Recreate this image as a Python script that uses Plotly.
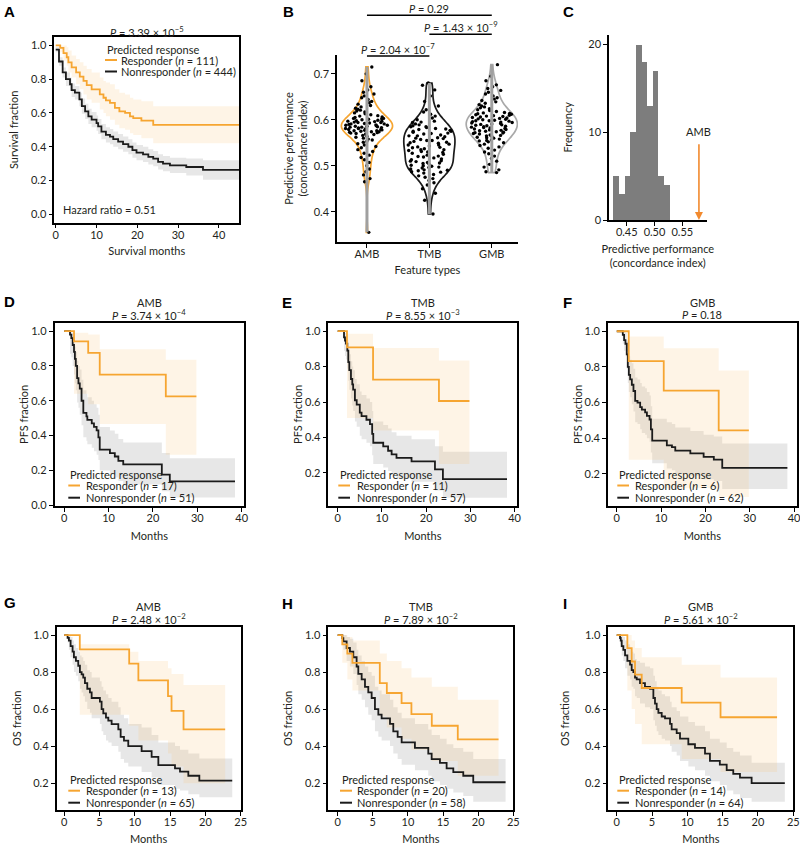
import plotly.graph_objects as go

# ============================ DATA ============================
# ---- Panel A : all patients, predicted response ----
a_resp_time = [0, 1.1, 1.9, 2.7, 3.1, 3.9, 5.0, 5.9, 6.8, 7.6, 8.8, 10.8, 11.7, 12.3, 13.3, 14.5, 15.6, 17.0, 18.2, 19.0, 21.0, 23.9]
a_resp_surv = [1.0, 0.985, 0.955, 0.93, 0.90, 0.87, 0.84, 0.815, 0.79, 0.765, 0.74, 0.71, 0.69, 0.675, 0.66, 0.63, 0.61, 0.60, 0.58, 0.57, 0.555, 0.53]
a_resp_hi = [1.0, 1.0, 1.0, 0.99, 0.97, 0.94, 0.92, 0.90, 0.88, 0.86, 0.84, 0.81, 0.79, 0.78, 0.77, 0.74, 0.72, 0.71, 0.69, 0.68, 0.67, 0.64]
a_resp_lo = [1.0, 0.96, 0.91, 0.88, 0.84, 0.81, 0.77, 0.74, 0.71, 0.68, 0.66, 0.62, 0.60, 0.58, 0.56, 0.53, 0.51, 0.50, 0.48, 0.47, 0.45, 0.42]
a_resp_end = 45
a_non_time = [0, 0.8, 1.7, 2.5, 3.5, 3.9, 4.7, 5.8, 6.4, 7.2, 8.0, 8.8, 10.0, 10.4, 11.2, 12.3, 13.3, 14.1, 15.3, 16.5, 17.8, 18.8, 19.8, 21.4, 22.7, 23.9, 25.1, 26.3, 28.0, 32.0, 36.1]
a_non_surv = [0.975, 0.905, 0.84, 0.80, 0.77, 0.735, 0.72, 0.68, 0.64, 0.61, 0.58, 0.56, 0.54, 0.52, 0.49, 0.47, 0.46, 0.445, 0.43, 0.415, 0.40, 0.38, 0.365, 0.355, 0.34, 0.33, 0.31, 0.30, 0.29, 0.28, 0.263]
a_non_hi = [0.99, 0.93, 0.87, 0.84, 0.81, 0.775, 0.76, 0.72, 0.685, 0.655, 0.625, 0.605, 0.585, 0.565, 0.535, 0.515, 0.505, 0.49, 0.475, 0.46, 0.445, 0.425, 0.41, 0.40, 0.385, 0.375, 0.355, 0.345, 0.335, 0.33, 0.32]
a_non_lo = [0.96, 0.88, 0.81, 0.76, 0.73, 0.695, 0.68, 0.64, 0.595, 0.565, 0.535, 0.515, 0.495, 0.475, 0.445, 0.425, 0.415, 0.40, 0.385, 0.37, 0.355, 0.335, 0.32, 0.31, 0.295, 0.285, 0.265, 0.255, 0.245, 0.23, 0.205]
a_non_end = 45
a_pvalue = "3.39 × 10<sup>−5</sup>"
a_hazard_ratio = 0.51
a_n_resp, a_n_non = 111, 444

# ---- Panel B : concordance index per feature type ----
feature_types = ["AMB", "TMB", "GMB"]
b_amb = [0.355, 0.465, 0.472, 0.480, 0.487, 0.493, 0.500, 0.507, 0.513, 0.518,
         0.523, 0.527, 0.531, 0.535, 0.539, 0.542, 0.545, 0.548, 0.551, 0.553,
         0.556, 0.558, 0.560, 0.562, 0.564, 0.566, 0.568, 0.569, 0.571, 0.572,
         0.573, 0.574, 0.575, 0.576, 0.577, 0.578, 0.579, 0.580, 0.581, 0.582,
         0.583, 0.584, 0.584, 0.585, 0.586, 0.587, 0.588, 0.589, 0.590, 0.591,
         0.592, 0.593, 0.594, 0.595, 0.596, 0.597, 0.598, 0.599, 0.600, 0.601,
         0.602, 0.603, 0.605, 0.606, 0.608, 0.609, 0.611, 0.613, 0.615, 0.617,
         0.619, 0.621, 0.623, 0.625, 0.628, 0.631, 0.634, 0.637, 0.640, 0.644,
         0.648, 0.652, 0.656, 0.660, 0.665, 0.672, 0.685, 0.700, 0.715, 0.579,
         0.581, 0.586, 0.588, 0.591, 0.594, 0.576, 0.574, 0.597, 0.570, 0.603]
b_tmb = [0.395, 0.425, 0.440, 0.450, 0.458, 0.463, 0.468, 0.472, 0.475, 0.478,
         0.481, 0.484, 0.487, 0.489, 0.491, 0.493, 0.495, 0.497, 0.499, 0.501,
         0.503, 0.505, 0.507, 0.509, 0.511, 0.513, 0.515, 0.517, 0.519, 0.521,
         0.523, 0.525, 0.527, 0.529, 0.531, 0.533, 0.535, 0.537, 0.539, 0.541,
         0.543, 0.545, 0.547, 0.549, 0.551, 0.553, 0.555, 0.557, 0.559, 0.561,
         0.563, 0.565, 0.567, 0.569, 0.571, 0.573, 0.575, 0.577, 0.579, 0.581,
         0.583, 0.585, 0.587, 0.589, 0.591, 0.594, 0.597, 0.600, 0.604, 0.608,
         0.612, 0.617, 0.622, 0.630, 0.640, 0.652, 0.665, 0.675, 0.680,
         0.520, 0.530, 0.540, 0.550, 0.560, 0.570, 0.580, 0.500, 0.490, 0.510,
         0.535, 0.545, 0.555, 0.565, 0.575, 0.585, 0.595, 0.486, 0.496, 0.506]
b_gmb = [0.485, 0.487, 0.491, 0.497, 0.503, 0.510, 0.516, 0.521, 0.526, 0.530,
         0.534, 0.538, 0.541, 0.544, 0.547, 0.550, 0.552, 0.554, 0.556, 0.558,
         0.560, 0.562, 0.564, 0.566, 0.567, 0.569, 0.570, 0.572, 0.573, 0.575,
         0.576, 0.577, 0.579, 0.580, 0.581, 0.582, 0.583, 0.585, 0.586, 0.587,
         0.588, 0.589, 0.590, 0.591, 0.592, 0.593, 0.594, 0.595, 0.596, 0.597,
         0.598, 0.599, 0.600, 0.601, 0.602, 0.603, 0.604, 0.606, 0.607, 0.608,
         0.610, 0.611, 0.613, 0.614, 0.616, 0.618, 0.620, 0.622, 0.624, 0.626,
         0.628, 0.630, 0.633, 0.636, 0.639, 0.642, 0.645, 0.648, 0.652, 0.656,
         0.660, 0.664, 0.668, 0.672, 0.676, 0.685, 0.695, 0.720,
         0.578, 0.584, 0.574, 0.571, 0.565, 0.561, 0.605, 0.609, 0.612, 0.615, 0.555, 0.598]
b_pairs = [("AMB", "GMB", "0.29"), ("TMB", "GMB", "1.43 × 10<sup>−9</sup>"), ("AMB", "TMB", "2.04 × 10<sup>−7</sup>")]

# ---- Panel C : null distribution histogram ----
c_bin_left = [0.4259, 0.4360, 0.4462, 0.4563, 0.4665, 0.4766, 0.4868, 0.4969, 0.5070, 0.5172]
c_bin_width = 0.01014
c_counts = [5, 3, 5, 10, 20, 18, 13, 17, 5, 4]
c_amb_cindex = 0.580
c_arrow_top = 8.8

# ---- Panel D : PFS, AMB ----
d_resp_time = [0, 2.2, 5.4, 8.0, 22.9]
d_resp_surv = [1.0, 0.941, 0.875, 0.75, 0.625]
d_resp_hi = [1.0, 0.99, 0.98, 0.895, 0.835]
d_resp_lo = [1.0, 0.64, 0.58, 0.466, 0.29]
d_resp_end = 29.8
d_non_time = [0, 1.3, 1.6, 1.9, 2.2, 2.4, 2.6, 2.9, 3.2, 3.5, 3.9, 4.3, 5.0, 5.2, 6.2, 6.7, 7.3, 7.7, 8.0, 10.3, 11.4, 12.2, 13.3, 22.0, 23.8]
d_non_surv = [1.0, 0.98, 0.96, 0.92, 0.88, 0.84, 0.80, 0.73, 0.70, 0.67, 0.60, 0.53, 0.51, 0.49, 0.47, 0.45, 0.43, 0.39, 0.32, 0.30, 0.28, 0.255, 0.235, 0.176, 0.137]
d_non_hi = [1.0, 1.0, 0.99, 0.97, 0.94, 0.91, 0.88, 0.83, 0.80, 0.78, 0.72, 0.66, 0.64, 0.62, 0.60, 0.58, 0.56, 0.52, 0.45, 0.43, 0.41, 0.38, 0.36, 0.30, 0.27]
d_non_lo = [1.0, 0.87, 0.85, 0.80, 0.75, 0.70, 0.66, 0.59, 0.56, 0.52, 0.46, 0.39, 0.37, 0.35, 0.33, 0.31, 0.29, 0.26, 0.20, 0.18, 0.16, 0.14, 0.12, 0.08, 0.045]
d_non_end = 38.5
d_pvalue = "3.74 × 10<sup>−4</sup>"
d_n_resp, d_n_non = 17, 51

# ---- Panel E : PFS, TMB ----
e_resp_time = [0, 2.1, 8.0, 22.9]
e_resp_surv = [1.0, 0.909, 0.727, 0.606]
e_resp_hi = [1.0, 0.985, 0.905, 0.835]
e_resp_lo = [1.0, 0.51, 0.44, 0.25]
e_resp_end = 29.8
e_non_time = [0, 1.43, 1.65, 1.88, 2.18, 2.4, 2.63, 3.0, 3.3, 3.5, 3.9, 4.3, 5.0, 5.4, 6.5, 7.3, 7.8, 8.05, 10.3, 11.4, 12.2, 13.3, 16.7, 22.0, 23.8]
e_non_surv = [1.0, 0.965, 0.947, 0.93, 0.89, 0.825, 0.78, 0.73, 0.70, 0.67, 0.61, 0.585, 0.54, 0.52, 0.50, 0.475, 0.42, 0.37, 0.35, 0.325, 0.305, 0.285, 0.265, 0.22, 0.165]
e_non_hi = [1.0, 1.0, 0.99, 0.98, 0.95, 0.90, 0.87, 0.83, 0.80, 0.78, 0.73, 0.70, 0.66, 0.64, 0.62, 0.60, 0.55, 0.49, 0.47, 0.45, 0.43, 0.41, 0.39, 0.35, 0.32]
e_non_lo = [1.0, 0.89, 0.86, 0.84, 0.79, 0.72, 0.67, 0.62, 0.58, 0.55, 0.49, 0.46, 0.41, 0.39, 0.37, 0.35, 0.30, 0.25, 0.23, 0.21, 0.19, 0.17, 0.15, 0.10, 0.06]
e_non_end = 38.3
e_pvalue = "8.55 × 10<sup>−3</sup>"
e_n_resp, e_n_non = 11, 57

# ---- Panel F : PFS, GMB ----
f_resp_time = [0, 2.7, 10.6, 23.0]
f_resp_surv = [1.0, 0.833, 0.667, 0.444]
f_resp_hi = [1.0, 0.97, 0.905, 0.78]
f_resp_lo = [1.0, 0.28, 0.12, 0.07]
f_resp_end = 29.8
f_non_time = [0, 1.36, 1.66, 1.96, 2.26, 2.49, 2.72, 3.02, 3.4, 3.77, 4.15, 4.68, 5.28, 5.66, 6.4, 6.8, 7.4, 7.7, 8.0, 11.3, 12.45, 13.2, 16.6, 19.6, 21.9, 23.8]
f_non_surv = [1.0, 0.98, 0.95, 0.93, 0.87, 0.80, 0.755, 0.73, 0.70, 0.665, 0.61, 0.60, 0.575, 0.56, 0.545, 0.525, 0.505, 0.45, 0.387, 0.36, 0.35, 0.33, 0.315, 0.295, 0.28, 0.234]
f_non_hi = [1.0, 1.0, 1.0, 0.99, 0.95, 0.90, 0.86, 0.84, 0.82, 0.79, 0.74, 0.73, 0.71, 0.69, 0.68, 0.66, 0.64, 0.58, 0.51, 0.49, 0.48, 0.46, 0.44, 0.42, 0.41, 0.37]
f_non_lo = [1.0, 0.93, 0.89, 0.86, 0.79, 0.71, 0.66, 0.63, 0.59, 0.55, 0.49, 0.48, 0.45, 0.43, 0.42, 0.40, 0.38, 0.32, 0.26, 0.23, 0.22, 0.20, 0.19, 0.17, 0.16, 0.115]
f_non_end = 38.5
f_pvalue = "0.18"
f_n_resp, f_n_non = 6, 62

# ---- Panel G : OS, AMB ----
g_resp_time = [0, 2.2, 9.2, 10.5, 14.7, 15.2, 16.9]
g_resp_surv = [1.0, 0.923, 0.846, 0.755, 0.67, 0.59, 0.49]
g_resp_hi = [1.0, 0.95, 0.91, 0.86, 0.82, 0.79, 0.73]
g_resp_lo = [1.0, 0.57, 0.51, 0.43, 0.36, 0.29, 0.20]
g_resp_end = 22.8
g_non_time = [0, 0.47, 0.66, 0.9, 1.18, 1.37, 1.65, 1.98, 2.22, 2.46, 2.69, 2.93, 3.26, 3.64, 3.88, 5.05, 5.29, 5.53, 5.91, 6.24, 6.71, 7.66, 7.99, 8.46, 9.07, 10.96, 12.38, 13.33, 15.69, 16.4, 17.58, 19.14]
g_non_surv = [1.0, 0.985, 0.97, 0.94, 0.91, 0.88, 0.86, 0.834, 0.80, 0.787, 0.77, 0.74, 0.71, 0.69, 0.66, 0.64, 0.60, 0.577, 0.554, 0.538, 0.519, 0.49, 0.45, 0.43, 0.40, 0.373, 0.342, 0.297, 0.28, 0.262, 0.24, 0.214]
g_non_hi = [1.0, 1.0, 1.0, 0.99, 0.97, 0.95, 0.93, 0.91, 0.89, 0.88, 0.86, 0.84, 0.81, 0.80, 0.77, 0.75, 0.72, 0.70, 0.68, 0.66, 0.64, 0.61, 0.57, 0.55, 0.52, 0.50, 0.46, 0.42, 0.40, 0.38, 0.36, 0.333]
g_non_lo = [1.0, 0.96, 0.92, 0.88, 0.84, 0.80, 0.78, 0.75, 0.71, 0.69, 0.67, 0.64, 0.60, 0.58, 0.55, 0.52, 0.48, 0.46, 0.43, 0.42, 0.40, 0.37, 0.33, 0.31, 0.29, 0.26, 0.23, 0.19, 0.17, 0.16, 0.14, 0.124]
g_non_end = 23.8
g_pvalue = "2.48 × 10<sup>−2</sup>"
g_n_resp, g_n_non = 13, 65

# ---- Panel H : OS, TMB ----
h_resp_time = [0, 0.66, 1.38, 2.1, 6.0, 7.0, 9.1, 10.5, 13.4, 17.1]
h_resp_surv = [1.0, 0.95, 0.90, 0.85, 0.74, 0.687, 0.632, 0.573, 0.51, 0.436]
h_resp_hi = [1.0, 1.0, 0.99, 0.97, 0.90, 0.86, 0.82, 0.77, 0.72, 0.65]
h_resp_lo = [1.0, 0.85, 0.76, 0.70, 0.56, 0.50, 0.44, 0.38, 0.32, 0.24]
h_resp_end = 22.9
h_non_time = [0, 0.66, 0.81, 1.28, 1.75, 2.23, 2.7, 2.94, 3.42, 3.89, 4.36, 4.84, 5.31, 5.79, 6.26, 7.45, 7.92, 8.54, 9.11, 11.0, 12.9, 13.38, 14.56, 15.51, 16.46, 17.88, 19.3]
h_non_surv = [1.0, 0.983, 0.966, 0.93, 0.91, 0.88, 0.83, 0.79, 0.76, 0.72, 0.69, 0.66, 0.60, 0.57, 0.55, 0.52, 0.48, 0.45, 0.42, 0.39, 0.36, 0.33, 0.31, 0.28, 0.26, 0.24, 0.205]
h_non_hi = [1.0, 1.0, 1.0, 0.99, 0.98, 0.96, 0.92, 0.89, 0.86, 0.83, 0.80, 0.78, 0.72, 0.70, 0.68, 0.65, 0.61, 0.58, 0.55, 0.52, 0.49, 0.46, 0.44, 0.41, 0.39, 0.37, 0.33]
h_non_lo = [1.0, 0.95, 0.92, 0.86, 0.83, 0.79, 0.73, 0.68, 0.65, 0.61, 0.57, 0.54, 0.48, 0.45, 0.43, 0.40, 0.36, 0.33, 0.30, 0.27, 0.24, 0.21, 0.19, 0.17, 0.15, 0.13, 0.10]
h_non_end = 23.9
h_pvalue = "7.89 × 10<sup>−2</sup>"
h_n_resp, h_n_non = 20, 58

# ---- Panel I : OS, GMB ----
i_resp_time = [0, 1.51, 2.12, 2.59, 3.54, 9.2, 14.7]
i_resp_surv = [1.0, 0.929, 0.857, 0.786, 0.714, 0.635, 0.556]
i_resp_hi = [1.0, 1.0, 0.97, 0.93, 0.88, 0.84, 0.77]
i_resp_lo = [1.0, 0.70, 0.60, 0.52, 0.41, 0.33, 0.26]
i_resp_end = 22.7
i_non_time = [0, 0.47, 0.57, 0.71, 0.94, 1.18, 1.51, 1.89, 2.12, 2.36, 2.59, 2.83, 3.3, 4.0, 4.72, 5.19, 5.42, 5.66, 5.9, 6.37, 6.84, 7.55, 7.78, 8.49, 8.96, 10.14, 11.08, 12.5, 13.2, 14.6, 15.57, 16.5, 17.45, 19.1]
i_non_surv = [1.0, 0.984, 0.97, 0.94, 0.92, 0.89, 0.86, 0.84, 0.81, 0.80, 0.77, 0.76, 0.74, 0.72, 0.71, 0.66, 0.63, 0.60, 0.58, 0.56, 0.55, 0.52, 0.49, 0.47, 0.44, 0.41, 0.39, 0.36, 0.32, 0.30, 0.27, 0.25, 0.23, 0.20]
i_non_hi = [1.0, 1.0, 1.0, 1.0, 0.99, 0.97, 0.95, 0.93, 0.91, 0.90, 0.87, 0.86, 0.85, 0.83, 0.82, 0.78, 0.75, 0.72, 0.70, 0.68, 0.67, 0.64, 0.61, 0.59, 0.56, 0.53, 0.51, 0.48, 0.44, 0.42, 0.39, 0.37, 0.35, 0.31]
i_non_lo = [1.0, 0.95, 0.93, 0.89, 0.86, 0.82, 0.78, 0.76, 0.72, 0.71, 0.67, 0.66, 0.63, 0.61, 0.60, 0.54, 0.51, 0.48, 0.46, 0.44, 0.43, 0.40, 0.37, 0.35, 0.32, 0.29, 0.27, 0.24, 0.21, 0.19, 0.16, 0.14, 0.12, 0.10]
i_non_end = 23.8
i_pvalue = "5.61 × 10<sup>−2</sup>"
i_n_resp, i_n_non = 14, 64

# ============================ STYLE ============================
W, H = 800, 845
FONT = "Lato"
FS = 11
TXT = "#231f20"
ORANGE = "#F6A531"
BLACK = "#1b1b1b"
GMB_GRAY = "#A9A9A9"
ORANGE_BAND = "rgba(250, 200, 130, 0.20)"
GRAY_BAND = "rgba(140, 140, 140, 0.21)"
HIST_GRAY = "#7d7d7d"


def X(px):
    return px / W


def Y(py):
    return 1 - py / H


fig = go.Figure()
layout = dict(width=W, height=H, margin=dict(l=0, r=0, t=0, b=0),
              paper_bgcolor="white", plot_bgcolor="rgba(0,0,0,0)",
              font=dict(family=FONT, size=FS, color=TXT),
              showlegend=False, violinmode="overlay", bargap=0)
annotations = []
shapes = []


def axis_base(**kw):
    d = dict(showline=True, linecolor="black", linewidth=1.5, ticks="outside",
             ticklen=4, tickwidth=1.3, tickcolor="black", showgrid=False,
             zeroline=False, automargin=False, ticklabeloverflow="allow",
             tickfont=dict(family=FONT, size=FS, color=TXT),
             title=dict(font=dict(family=FONT, size=FS, color=TXT)))
    d.update(kw)
    return d


def set_axes(idx, box, xr, yr, mirror, xkw, ykw):
    x0, x1, y0, y1 = box
    sx = "" if idx == 1 else str(idx)
    xa = axis_base(domain=[X(x0), X(x1)], anchor="y" + sx, range=xr, mirror=mirror,
                   ticklabelstandoff=-3)
    ya = axis_base(domain=[Y(y1), Y(y0)], anchor="x" + sx, range=yr, mirror=mirror)
    for k, v in xkw.items():
        if k == "title":
            xa["title"].update(v)
        else:
            xa[k] = v
    for k, v in ykw.items():
        if k == "title":
            ya["title"].update(v)
        else:
            ya[k] = v
    layout["xaxis" + sx] = xa
    layout["yaxis" + sx] = ya
    return "x" + sx, "y" + sx


def km(time, surv, lo, hi, t_end, band, xa, ya):
    xs = list(time) + [t_end]
    fig.add_trace(go.Scatter(x=xs, y=list(lo) + [lo[-1]], mode="lines",
                             line=dict(width=0, shape="hv"), xaxis=xa, yaxis=ya,
                             hoverinfo="skip", showlegend=False))
    fig.add_trace(go.Scatter(x=xs, y=list(hi) + [hi[-1]], mode="lines",
                             line=dict(width=0, shape="hv"), fill="tonexty",
                             fillcolor=band, xaxis=xa, yaxis=ya,
                             hoverinfo="skip", showlegend=False))


def km_line(time, surv, t_end, color, xa, ya, name):
    fig.add_trace(go.Scatter(x=list(time) + [t_end], y=list(surv) + [surv[-1]],
                             mode="lines", name=name,
                             line=dict(color=color, width=1.8, shape="hv"),
                             xaxis=xa, yaxis=ya, showlegend=False))


def text(x, y, s, xanchor="center", yanchor="middle", size=FS, xref="paper", yref="paper", **kw):
    annotations.append(dict(x=x, y=y, xref=xref, yref=yref, text=s, showarrow=False,
                            xanchor=xanchor, yanchor=yanchor,
                            font=dict(family=FONT, size=size, color=TXT), **kw))


def legend(title_left, title_y, line_x0, line_x1, text_left, y1, y2, n_resp, n_non):
    text(X(title_left), Y(title_y), "Predicted response", xanchor="left")
    for yy, col, lab in [(y1, ORANGE, "Responder (<i>n</i> = %d)" % n_resp),
                         (y2, BLACK, "Nonresponder (<i>n</i> = %d)" % n_non)]:
        shapes.append(dict(type="line", xref="paper", yref="paper",
                           x0=X(line_x0), x1=X(line_x1), y0=Y(yy), y1=Y(yy),
                           line=dict(color=col, width=2)))
        text(X(text_left), Y(yy), lab, xanchor="left")


def letter(px, py, s):
    annotations.append(dict(x=X(px), y=Y(py), xref="paper", yref="paper", text="<b>%s</b>" % s,
                            showarrow=False, xanchor="left", yanchor="middle",
                            font=dict(family="Liberation Sans", size=15, color="black")))


# ============================ PANEL A ============================
xa, ya = set_axes(1, (54.3, 239.3, 37, 222.7), [-0.35, 45], [-0.05, 1.05], True,
                  dict(tickvals=[0, 10, 20, 30, 40], title=dict(text="Survival months", standoff=8)),
                  dict(tickvals=[0, 0.2, 0.4, 0.6, 0.8, 1.0], tickformat=".1f",
                       title=dict(text="Survival fraction", standoff=10)))
km(a_non_time, a_non_surv, a_non_lo, a_non_hi, a_non_end, GRAY_BAND, xa, ya)
km(a_resp_time, a_resp_surv, a_resp_lo, a_resp_hi, a_resp_end, ORANGE_BAND, xa, ya)
km_line(a_non_time, a_non_surv, a_non_end, BLACK, xa, ya, "Nonresponder")
km_line(a_resp_time, a_resp_surv, a_resp_end, ORANGE, xa, ya, "Responder")
text(X(147), Y(31.5), "<i>P</i> = " + a_pvalue)
legend(105, 49, 105, 117, 118.5, 60, 71.5, a_n_resp, a_n_non)
text(X(60.5), Y(210), "Hazard ratio = %.2f" % a_hazard_ratio, xanchor="left")
letter(2, 12, "A")

# ============================ PANEL B ============================
xa, ya = set_axes(2, (337, 518, 55, 242), [-0.48, 2.42], [0.334, 0.741], False,
                  dict(type="category", categoryorder="array", categoryarray=feature_types,
                       title=dict(text="Feature types", standoff=7)),
                  dict(tickvals=[0.4, 0.5, 0.6, 0.7], tickformat=".1f",
                       title=dict(text="Predictive performance<br>(concordance index)", standoff=4)))
for name, vals, col in [("AMB", b_amb, ORANGE), ("TMB", b_tmb, BLACK), ("GMB", b_gmb, GMB_GRAY)]:
    fig.add_trace(go.Violin(x=[name] * len(vals), y=vals, xaxis=xa, yaxis=ya, name=name,
                            line=dict(color=col, width=1.7), fillcolor="rgba(0,0,0,0)",
                            points=False, spanmode="hard", width=0.82, scalemode="width",
                            bandwidth=0.017, hoverinfo="skip", showlegend=False))
    fig.add_trace(go.Scatter(x=[name, name], y=[min(vals), max(vals)], mode="lines",
                             line=dict(color="#a0a0a0", width=3), xaxis=xa, yaxis=ya,
                             hoverinfo="skip", showlegend=False))
    fig.add_trace(go.Violin(x=[name] * len(vals), y=vals, xaxis=xa, yaxis=ya, name=name,
                            line=dict(color="rgba(0,0,0,0)", width=0), fillcolor="rgba(0,0,0,0)",
                            points="all", pointpos=0, jitter=0.85, spanmode="hard",
                            width=0.82, scalemode="width",
                            marker=dict(color="black", size=3.4),
                            hoverinfo="skip", showlegend=False))
for (c0, c1, p), ly in zip(b_pairs, [15.3, 34.3, 56]):
    shapes.append(dict(type="line", xref=xa, yref="paper", x0=c0, x1=c1, y0=Y(ly), y1=Y(ly),
                       line=dict(color="black", width=1.5)))
    mid = (feature_types.index(c0) + feature_types.index(c1)) / 2
    text(mid, Y(ly - 7.3), "<i>P</i> = " + p, xref=xa)
letter(280.5, 12, "B")

# ============================ PANEL C ============================
xa, ya = set_axes(3, (609, 706.7, 34.7, 220), [0.418, 0.594], [0, 21.1], False,
                  dict(tickvals=[0.45, 0.50, 0.55], tickformat=".2f",
                       title=dict(text="Predictive performance<br>(concordance index)", standoff=8)),
                  dict(tickvals=[0, 10, 20], title=dict(text="Frequency", standoff=13)))
fig.add_trace(go.Bar(x=[l + c_bin_width / 2 for l in c_bin_left], y=c_counts, width=c_bin_width,
                     marker=dict(color=HIST_GRAY, line=dict(width=0)), xaxis=xa, yaxis=ya,
                     hoverinfo="skip", showlegend=False))
annotations.append(dict(x=c_amb_cindex, y=0, ax=c_amb_cindex, ay=c_arrow_top, xref=xa, yref=ya,
                        axref=xa, ayref=ya, showarrow=True, arrowhead=2, arrowsize=1,
                        arrowwidth=1.6, arrowcolor="#F28A2E", text=""))
text(c_amb_cindex, c_arrow_top + 0.3, "AMB", xref=xa, yref=ya, yanchor="bottom")
letter(560.5, 11.5, "C")

# ============================ PANELS D-I ============================
km_panels = [
    (4, (54.5, 244.3, 322.7, 506), [-2.2, 40.6], [-0.004, 1.048], [0, 0.2, 0.4, 0.6, 0.8, 1.0],
     [0, 10, 20, 30, 40], "PFS fraction", 0, "AMB",
     (d_resp_time, d_resp_surv, d_resp_lo, d_resp_hi, d_resp_end),
     (d_non_time, d_non_surv, d_non_lo, d_non_hi, d_non_end), d_pvalue, d_n_resp, d_n_non,
     (68.3, 474.3, 68.3, 80, 84, 485.5, 497.7), (2, 302, "D")),
    (5, (328.4, 517.2, 322.7, 506), [-2.1, 40.6], [0.013, 1.048], [0.2, 0.4, 0.6, 0.8, 1.0],
     [0, 10, 20, 30, 40], "PFS fraction", 0, "TMB",
     (e_resp_time, e_resp_surv, e_resp_lo, e_resp_hi, e_resp_end),
     (e_non_time, e_non_surv, e_non_lo, e_non_hi, e_non_end), e_pvalue, e_n_resp, e_n_non,
     (338.3, 474.3, 338.3, 350, 355, 485.5, 497.7), (280, 303, "E")),
    (6, (607.9, 796.7, 322.7, 506), [-2.0, 40.6], [0.02, 1.048], [0.2, 0.4, 0.6, 0.8, 1.0],
     [0, 10, 20, 30, 40], "PFS fraction", 0, "GMB",
     (f_resp_time, f_resp_surv, f_resp_lo, f_resp_hi, f_resp_end),
     (f_non_time, f_non_surv, f_non_lo, f_non_hi, f_non_end), f_pvalue, f_n_resp, f_n_non,
     (617.3, 474.3, 617.3, 629, 633.3, 485.5, 497.7), (560.5, 303, "F")),
    (7, (56.5, 240.7, 626.7, 810), [-1.1, 25], [0.055, 1.045], [0.2, 0.4, 0.6, 0.8, 1.0],
     [0, 5, 10, 15, 20, 25], "OS fraction", 9, "AMB",
     (g_resp_time, g_resp_surv, g_resp_lo, g_resp_hi, g_resp_end),
     (g_non_time, g_non_surv, g_non_lo, g_non_hi, g_non_end), g_pvalue, g_n_resp, g_n_non,
     (68.3, 779.3, 68.3, 80, 84, 790.7, 802.7), (2, 602, "G")),
    (8, (328.3, 513.3, 626.7, 810), [-1.33, 25], [0.055, 1.045], [0.2, 0.4, 0.6, 0.8, 1.0],
     [0, 5, 10, 15, 20, 25], "OS fraction", 10, "TMB",
     (h_resp_time, h_resp_surv, h_resp_lo, h_resp_hi, h_resp_end),
     (h_non_time, h_non_surv, h_non_lo, h_non_hi, h_non_end), h_pvalue, h_n_resp, h_n_non,
     (340, 779.3, 340, 352, 355, 790.7, 802.7), (280, 603, "H")),
    (9, (608.3, 793.3, 626.7, 810), [-1.19, 25], [0.055, 1.045], [0.2, 0.4, 0.6, 0.8, 1.0],
     [0, 5, 10, 15, 20, 25], "OS fraction", 13, "GMB",
     (i_resp_time, i_resp_surv, i_resp_lo, i_resp_hi, i_resp_end),
     (i_non_time, i_non_surv, i_non_lo, i_non_hi, i_non_end), i_pvalue, i_n_resp, i_n_non,
     (617.3, 779.3, 617.3, 629, 633.3, 790.7, 802.7), (560.5, 603, "I")),
]

for (idx, box, xr, yr, yt, xt, ytitle, ystand, feat, resp, non, pval, nr, nn, leg, let) in km_panels:
    xa, ya = set_axes(idx, box, xr, yr, True,
                      dict(tickvals=xt, title=dict(text="Months", standoff=9)),
                      dict(tickvals=yt, tickformat=".1f", title=dict(text=ytitle, standoff=ystand)))
    km(non[0], non[1], non[2], non[3], non[4], GRAY_BAND, xa, ya)
    km(resp[0], resp[1], resp[2], resp[3], resp[4], ORANGE_BAND, xa, ya)
    km_line(non[0], non[1], non[4], BLACK, xa, ya, "Nonresponder")
    km_line(resp[0], resp[1], resp[4], ORANGE, xa, ya, "Responder")
    cx = (box[0] + box[1]) / 2
    text(X(cx), Y(box[2] - 20), feat)
    text(X(cx), Y(box[2] - 8.5), "<i>P</i> = " + pval)
    legend(leg[0], leg[1], leg[2], leg[3], leg[4], leg[5], leg[6], nr, nn)
    letter(let[0], let[1], let[2])

layout["annotations"] = annotations
layout["shapes"] = shapes
fig.update_layout(**layout)
fig.write_html("out.html", config={"displayModeBar": False},
               post_script="document.body.style.margin='0';document.body.style.overflow='hidden';")
